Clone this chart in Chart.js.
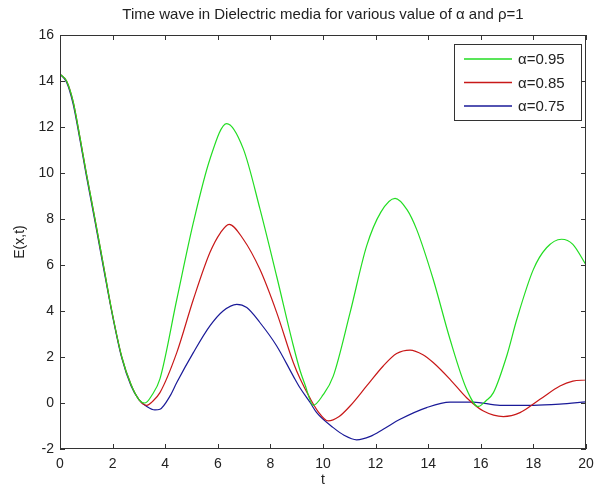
<!DOCTYPE html>
<html>
<head>
<meta charset="utf-8">
<script src="https://cdn.jsdelivr.net/npm/chart.js@4"></script>
<style>
  html, body { margin: 0; padding: 0; background: #fff; }
  #wrap { width: 594px; height: 489px; }
</style>
</head>
<body>
<div id="wrap"><canvas id="chart"></canvas></div>
<script>
// values
const greenT = [0,0.25,0.5,0.75,1,1.33,1.65,1.97,2.35,2.7,3,3.23,3.5,3.8,4.44,5.07,5.7,6.34,6.97,7.6,8.24,8.87,9.13,9.3,9.63,10,10.39,11.03,11.66,12.2,12.74,13.2,13.56,14.19,14.83,15.46,15.9,16.2,16.48,17,17.37,18,18.5,19.07,19.5,20]
const greenE = [14.3,14.0,13.1,11.6,10.0,8.0,6.0,4.0,2.0,0.8,0.15,0.0,0.35,1.05,4.5,7.84,10.6,12.15,11.05,8.45,5.5,2.5,1.4,0.85,-0.1,0.35,1.17,3.93,6.83,8.3,8.9,8.4,7.55,5.38,2.77,0.6,-0.15,0.1,0.45,2.1,3.64,5.81,6.75,7.12,6.9,6.0]

const redT = [0,0.25,0.5,0.75,1,1.33,1.65,1.97,2.35,2.7,3,3.3,3.5,3.8,4.44,5.07,5.7,6.1,6.43,6.97,7.6,8.24,8.87,9.13,9.51,9.8,10.2,10.6,11.03,11.66,12.29,12.8,13.31,13.8,14.19,14.83,15.46,16.1,16.86,17.49,18.25,19.01,19.5,20]
const redE = [14.3,14.0,13.1,11.6,10.0,8.0,6.0,4.0,2.0,0.8,0.15,-0.1,0.05,0.45,2.19,4.5,6.54,7.4,7.77,7.12,5.81,3.93,1.76,1.05,0.2,-0.35,-0.78,-0.6,-0.13,0.74,1.61,2.15,2.3,2.1,1.76,1.03,0.23,-0.35,-0.59,-0.42,0.16,0.74,0.95,1.0]

const blueT = [0,0.25,0.5,0.75,1,1.33,1.65,1.97,2.35,2.7,3,3.3,3.61,3.8,4.18,4.44,5.07,5.7,6.2,6.72,7.1,7.6,8.24,8.87,9.13,9.51,9.76,10.39,10.8,11.28,11.8,12.29,12.93,13.94,14.83,15.72,16.73,18,19,20]
const blueE = [14.3,13.95,13.0,11.5,9.9,7.9,5.9,3.95,1.95,0.75,0.15,-0.15,-0.3,-0.27,0.3,0.89,2.19,3.35,4.0,4.29,4.15,3.5,2.48,1.17,0.65,0.02,-0.42,-1.07,-1.4,-1.6,-1.45,-1.14,-0.71,-0.2,0.04,0.04,-0.1,-0.1,-0.05,0.05]

const seriesLabels = ['\u03b1=0.95', '\u03b1=0.85', '\u03b1=0.75']
const colors = ['#22dd22', '#c81818', '#1a1a98']
const titleText = 'Time wave in Dielectric media for various value of \u03b1 and \u03c1=1'

const toPoints = (ts, es) => ts.map((t, i) => ({ x: t, y: es[i] }))

const FONT = 'Arial, "Liberation Sans", Helvetica, sans-serif'

// title centred over the plot area, like matlab does it
const plotTitlePlugin = {
	id: 'plotTitle',
	afterDraw(chart) {
		const { ctx, chartArea: a } = chart
		ctx.save()
		ctx.font = '15px ' + FONT
		ctx.fillStyle = '#222'
		ctx.textAlign = 'center'
		ctx.textBaseline = 'alphabetic'
		ctx.fillText(titleText, (a.left + a.right) / 2, 19)
		ctx.restore()
	},
}

// matlab style box with inward ticks on all sides
const boxPlugin = {
	id: 'box',
	afterDatasetsDraw(chart) {
		const { ctx, chartArea: a, scales } = chart
		ctx.save()
		ctx.strokeStyle = '#333'
		ctx.lineWidth = 1
		ctx.strokeRect(a.left + 0.5, a.top + 0.5, a.right - a.left - 1, a.bottom - a.top - 1)
		ctx.beginPath()
		scales.x.ticks.forEach((t) => {
			const px = Math.round(scales.x.getPixelForValue(t.value)) + 0.5
			ctx.moveTo(px, a.bottom)
			ctx.lineTo(px, a.bottom - 5)
			ctx.moveTo(px, a.top)
			ctx.lineTo(px, a.top + 5)
		})
		scales.y.ticks.forEach((t) => {
			const py = Math.round(scales.y.getPixelForValue(t.value)) + 0.5
			ctx.moveTo(a.left, py)
			ctx.lineTo(a.left + 5, py)
			ctx.moveTo(a.right, py)
			ctx.lineTo(a.right - 5, py)
		})
		ctx.stroke()
		ctx.restore()
	},
}

// legend box inside the upper right corner
const legendBoxPlugin = {
	id: 'legendBox',
	afterDraw(chart) {
		const { ctx, chartArea: a } = chart
		const w = 127
		const h = 76
		const x0 = a.right - 5 - w
		const y0 = a.top + 9
		ctx.save()
		ctx.fillStyle = '#fff'
		ctx.fillRect(x0, y0, w, h)
		ctx.strokeStyle = '#333'
		ctx.lineWidth = 1
		ctx.strokeRect(x0 + 0.5, y0 + 0.5, w, h)
		ctx.font = '15px ' + FONT
		ctx.textBaseline = 'middle'
		chart.data.datasets.forEach((ds, i) => {
			const y = y0 + 15 + i * 23.5
			ctx.strokeStyle = ds.borderColor
			ctx.lineWidth = 1.3
			ctx.beginPath()
			ctx.moveTo(x0 + 10, y)
			ctx.lineTo(x0 + 58, y)
			ctx.stroke()
			ctx.fillStyle = '#222'
			ctx.fillText(ds.label, x0 + 64, y + 1)
		})
		ctx.restore()
	},
}

new Chart(document.getElementById('chart'), {
	type: 'line',
	data: {
		datasets: [
			{ label: seriesLabels[0], data: toPoints(greenT, greenE), borderColor: colors[0] },
			{ label: seriesLabels[1], data: toPoints(redT, redE), borderColor: colors[1] },
			{ label: seriesLabels[2], data: toPoints(blueT, blueE), borderColor: colors[2] },
		],
	},
	options: {
		responsive: true,
		maintainAspectRatio: false,
		animation: false,
		layout: { padding: { left: 0, right: 8, top: 35, bottom: 0 } },
		elements: {
			point: { radius: 0 },
			line: { borderWidth: 1.2, cubicInterpolationMode: 'monotone', fill: false },
		},
		plugins: {
			legend: { display: false },
			tooltip: { enabled: false },
			title: { display: false },
		},
		scales: {
			x: {
				type: 'linear',
				min: 0,
				max: 20,
				afterFit: (s) => {
					s.height = 40
					s.paddingRight = 0
					s.paddingLeft = 0
				},
				grid: { display: false, drawTicks: false },
				border: { display: false },
				ticks: { stepSize: 2, padding: 7, color: '#222', font: { family: FONT, size: 14 } },
				title: { display: true, text: 't', color: '#222', padding: { top: 0, bottom: 0 }, font: { family: FONT, size: 14 } },
			},
			y: {
				min: -2,
				max: 16,
				afterFit: (s) => { s.width = 60 },
				grid: { display: false, drawTicks: false },
				border: { display: false },
				ticks: { stepSize: 2, padding: 6, color: '#222', font: { family: FONT, size: 14 } },
				title: { display: true, text: 'E(x,t)', color: '#222', padding: { top: 12, bottom: 4 }, font: { family: FONT, size: 14 } },
			},
		},
	},
	plugins: [plotTitlePlugin, boxPlugin, legendBoxPlugin],
})
</script>
</body>
</html>
